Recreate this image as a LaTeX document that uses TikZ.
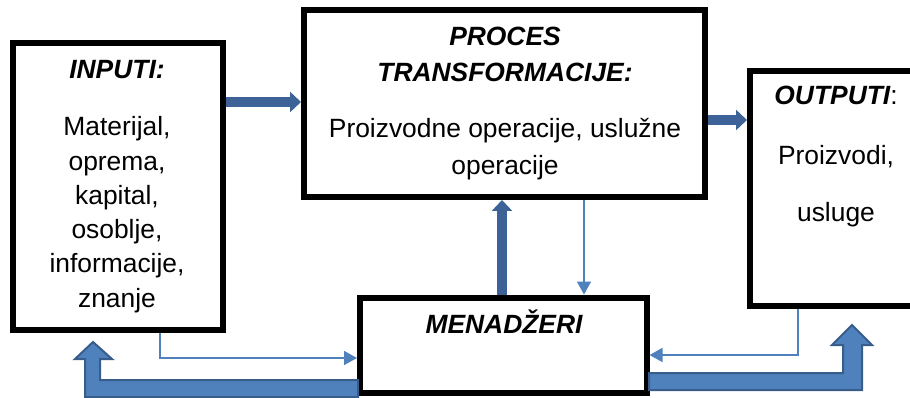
\documentclass[tikz,border=0pt]{standalone}
\usepackage{fontspec}
\setmainfont{Liberation Sans}
\usetikzlibrary{arrows.meta}
\definecolor{darkarrow}{RGB}{60,98,152}
\definecolor{lightarrow}{RGB}{79,129,189}
\definecolor{bentfill}{RGB}{79,129,189}
\definecolor{bentborder}{RGB}{56,93,138}
\tikzset{
  boxframe/.style={draw=black, line width=6pt, fill=white, rectangle, inner sep=0pt},
  txt/.style={anchor=base, inner sep=0pt, font=\fontsize{26.4}{32}\selectfont},
  ttl/.style={txt, font=\fontsize{26.4}{32}\selectfont\bfseries\itshape},
  thickarrow/.style={draw=darkarrow, line width=10pt, -{Triangle[length=11pt,width=20pt]}},
  thinarrow/.style={draw=lightarrow, line width=1.5pt, -{Triangle[length=13pt,width=14pt]}},
  bentarrow/.style={fill=bentfill, draw=bentborder, line width=2pt, line join=miter},
}
\begin{document}
\begin{tikzpicture}[x=1pt, y=-1pt]
\useasboundingbox (0,0) rectangle (910,398);

% boxes
\node[boxframe, minimum width=210pt, minimum height=287pt] (inp) at (118,186.5) {};
\node[boxframe, minimum width=401pt, minimum height=187pt] (proc) at (504.5,103.5) {};
\node[boxframe, minimum width=164pt, minimum height=235pt] (out) at (832,188.5) {};
\node[boxframe, minimum width=286.5pt, minimum height=95.5pt] (men) at (503.25,345.25) {};

% texts
\node[ttl] (inpt) at (117,79) {INPUTI:};
\node[txt] (in1) at (117,136) {Materijal,};
\node[txt] (in2) at (117,170.2) {oprema,};
\node[txt] (in3) at (117,204.4) {kapital,};
\node[txt] (in4) at (117,238.6) {osoblje,};
\node[txt] (in5) at (117,272.8) {informacije,};
\node[txt] (in6) at (117,307) {znanje};

\node[ttl] (prt1) at (505,46) {PROCES};
\node[ttl] (prt2) at (505,82) {TRANSFORMACIJE:};
\node[txt] (pr1) at (505,138) {Proizvodne operacije, uslužne};
\node[txt] (pr2) at (505,175) {operacije};

\node[txt] (outt) at (836,105) {\bfseries\itshape OUTPUTI\normalfont:};
\node[txt] (out1) at (836,165) {Proizvodi,};
\node[txt] (out2) at (836,222) {usluge};

\node[ttl] (ment) at (504,333) {MENADŽERI};

% helper coordinates
\coordinate (ya) at (0,102);
\coordinate (yb) at (0,120);
\coordinate (xa) at (502,0);
\coordinate (xb) at (584,0);
\coordinate (xc) at (160,0);
\coordinate (yc) at (0,358);
\coordinate (xd) at (798,0);
\coordinate (yd) at (0,355);

% straight arrows
\draw[thickarrow] (inp.east |- ya) -- (proc.west |- ya);
\draw[thickarrow] (proc.east |- yb) -- (out.west |- yb);
\draw[thickarrow] (men.north -| xa) -- (proc.south -| xa);
\draw[thinarrow] (proc.south -| xb) -- (men.north -| xb);
\draw[thinarrow] (inp.south -| xc) |- (men.west |- yc);
\draw[thinarrow] (out.south -| xd) |- (men.east |- yd);

% bent block arrows
\coordinate (lb) at (358,380);
\coordinate (rb) at (649,373);
\draw[bentarrow] (lb) -- (100,380) -- (100,359) -- (112,359) -- (93,342) -- (75,359) -- (85,359) -- (85,397) -- (358,397) -- cycle;
\draw[bentarrow] (rb) -- (843,373) -- (843,345) -- (832,345) -- (852,325) -- (872,345) -- (862,345) -- (862,390) -- (649,390) -- cycle;
\end{tikzpicture}
\end{document}
